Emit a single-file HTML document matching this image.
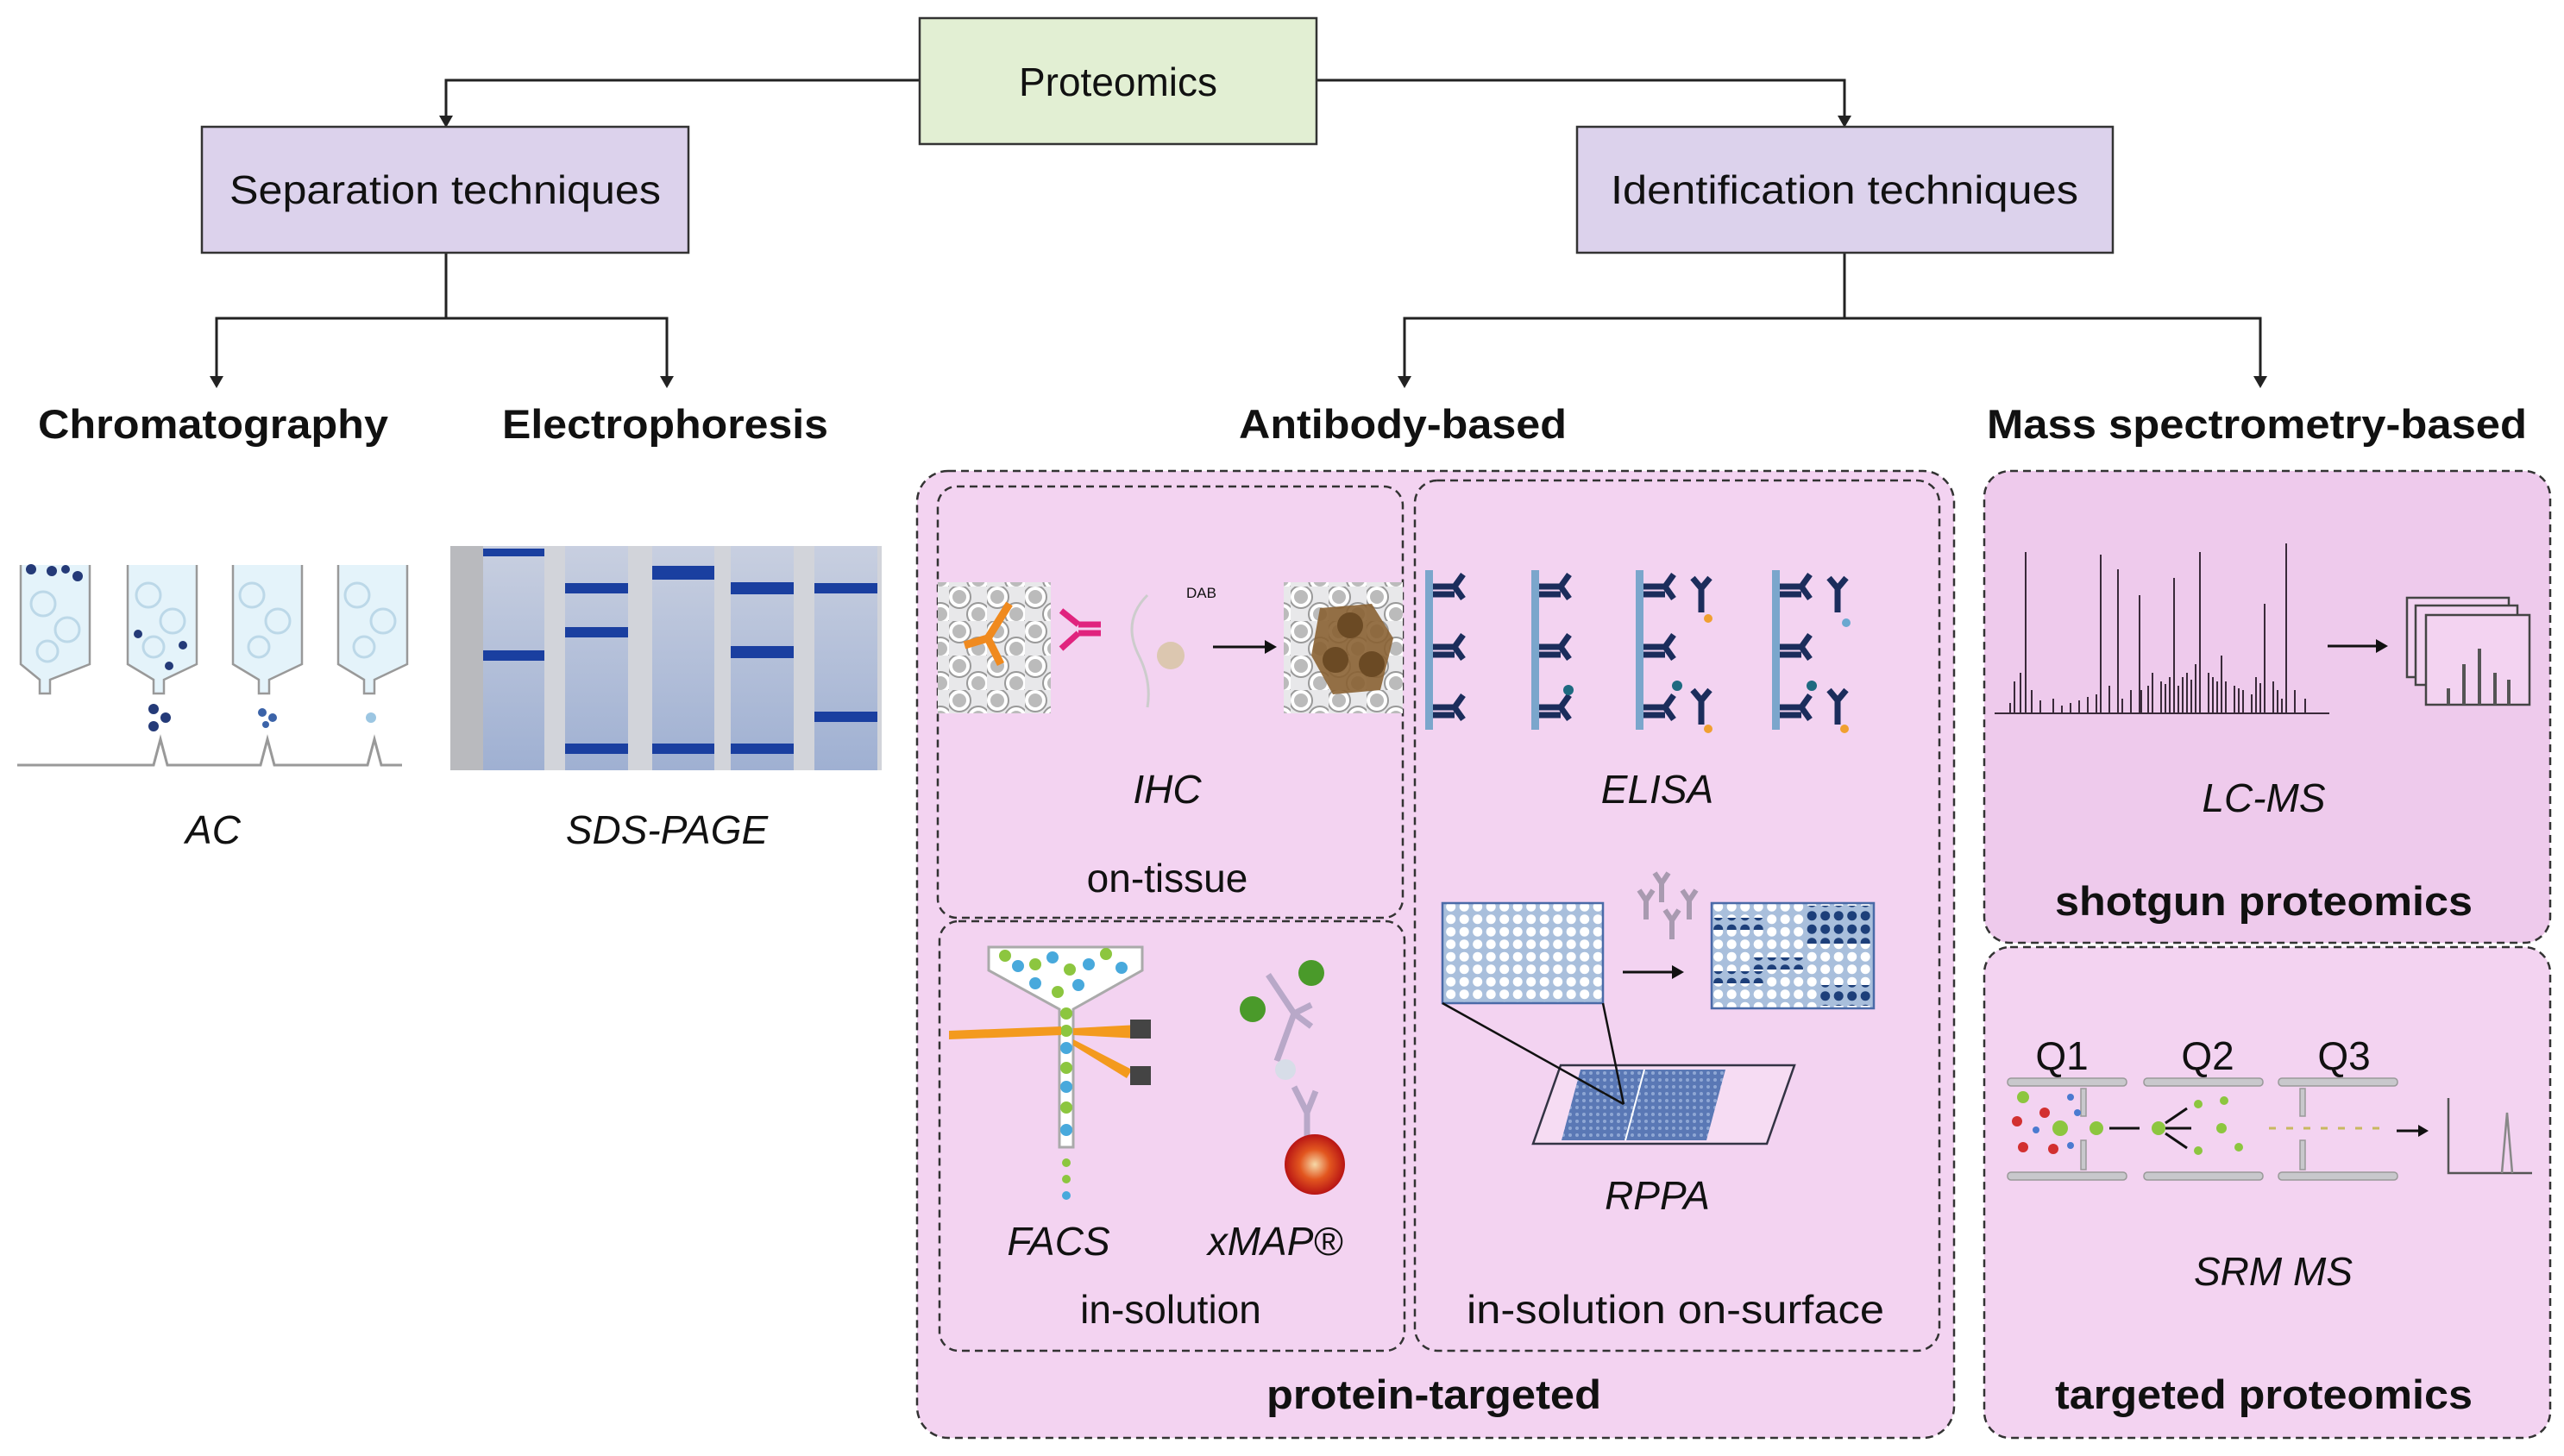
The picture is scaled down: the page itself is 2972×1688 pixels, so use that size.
<!DOCTYPE html>
<html><head><meta charset="utf-8"><style>
html,body{margin:0;padding:0;background:#fff}
svg{display:block}
text{font-family:"Liberation Sans",Arial,sans-serif;fill:#111}
.b{font-weight:bold}
.i{font-style:italic}
</style></head><body>
<svg width="2972" height="1688" viewBox="0 0 2972 1688" xmlns="http://www.w3.org/2000/svg">
<defs>
<pattern id="wells" width="15.5" height="14.5" patternUnits="userSpaceOnUse">
<rect width="15.5" height="14.5" fill="#a9bfdc"/><circle cx="7.7" cy="7.2" r="5.5" fill="#fff"/>
</pattern>
<pattern id="wellsd" width="15.5" height="15.5" patternUnits="userSpaceOnUse">
<rect width="15.5" height="15.5" fill="#a9bfdc"/><circle cx="7.7" cy="7.7" r="5.5" fill="#1d3f7a"/>
</pattern>
<pattern id="cells" width="44" height="40" patternUnits="userSpaceOnUse">
<rect width="44" height="40" fill="#e8e8ea"/>
<circle cx="12" cy="12" r="13" fill="#fff" stroke="#999" stroke-width="2"/><circle cx="12" cy="12" r="8" fill="#bbb"/>
<circle cx="34" cy="32" r="13" fill="#fff" stroke="#999" stroke-width="2"/><circle cx="34" cy="32" r="8" fill="#bbb"/>
</pattern>
<pattern id="spots" width="8" height="8" patternUnits="userSpaceOnUse">
<rect width="8" height="8" fill="#5a78b5"/><circle cx="4" cy="4" r="2" fill="#8fa7d4"/>
</pattern>
<linearGradient id="lane" x1="0" y1="0" x2="0" y2="1"><stop offset="0" stop-color="#c8cfe0"/><stop offset="1" stop-color="#9fb0d2"/></linearGradient>
<radialGradient id="bead"><stop offset="0" stop-color="#f6d9a8"/><stop offset="0.5" stop-color="#e2561f"/><stop offset="1" stop-color="#b81414"/></radialGradient>
</defs>

<g stroke="#222" stroke-width="3" fill="none">
<polyline points="1066,93 517,93 517,136"/>
<polyline points="1526,93 2138,93 2138,136"/>
<line x1="517" y1="293" x2="517" y2="369"/>
<polyline points="251,438 251,369 773,369 773,438"/>
<line x1="2138" y1="293" x2="2138" y2="369"/>
<polyline points="1628,438 1628,369 2620,369 2620,438"/>
</g>
<g fill="#222">
<polygon points="509,134 525,134 517,148"/>
<polygon points="2130,134 2146,134 2138,148"/>
<polygon points="243,436 259,436 251,450"/>
<polygon points="765,436 781,436 773,450"/>
<polygon points="1620,436 1636,436 1628,450"/>
<polygon points="2612,436 2628,436 2620,450"/>
</g>

<rect x="1066" y="21" width="460" height="146" fill="#e2efd3" stroke="#333" stroke-width="2.5"/>
<text x="1296" y="111" font-size="46" text-anchor="middle">Proteomics</text>
<rect x="234" y="147" width="564" height="146" fill="#dcd2ec" stroke="#333" stroke-width="2.5"/>
<text x="516" y="236" font-size="46" text-anchor="middle" textLength="500" lengthAdjust="spacingAndGlyphs">Separation techniques</text>
<rect x="1828" y="147" width="621" height="146" fill="#dcd2ec" stroke="#333" stroke-width="2.5"/>
<text x="2138" y="236" font-size="46" text-anchor="middle" textLength="542" lengthAdjust="spacingAndGlyphs">Identification techniques</text>

<text class="b" x="247" y="508" font-size="47" text-anchor="middle" textLength="406" lengthAdjust="spacingAndGlyphs">Chromatography</text>
<text class="b" x="771" y="508" font-size="47" text-anchor="middle" textLength="378" lengthAdjust="spacingAndGlyphs">Electrophoresis</text>
<text class="b" x="1626" y="508" font-size="47" text-anchor="middle" textLength="380" lengthAdjust="spacingAndGlyphs">Antibody-based</text>
<text class="b" x="2616" y="508" font-size="47" text-anchor="middle" textLength="626" lengthAdjust="spacingAndGlyphs">Mass spectrometry-based</text>

<g stroke="#999" stroke-width="2.5" fill="#e4f3fa">
<path d="M24,655 L24,770 L46,788 L46,804 L58,804 L58,788 L104,770 L104,655"/>
<path d="M148,655 L148,770 L178,788 L178,804 L190,804 L190,788 L228,770 L228,655"/>
<path d="M270,655 L270,770 L300,788 L300,804 L312,804 L312,788 L350,770 L350,655"/>
<path d="M392,655 L392,770 L422,788 L422,804 L434,804 L434,788 L472,770 L472,655"/>
</g>
<g fill="none" stroke="#bcd8e8" stroke-width="3">
<circle cx="50" cy="700" r="14"/><circle cx="78" cy="730" r="14"/><circle cx="55" cy="755" r="12"/>
<circle cx="172" cy="690" r="14"/><circle cx="200" cy="720" r="14"/><circle cx="178" cy="750" r="12"/>
<circle cx="292" cy="690" r="14"/><circle cx="322" cy="720" r="14"/><circle cx="300" cy="750" r="12"/>
<circle cx="414" cy="690" r="14"/><circle cx="444" cy="720" r="14"/><circle cx="422" cy="750" r="12"/>
</g>
<g fill="#243a78">
<circle cx="36" cy="660" r="6"/><circle cx="60" cy="662" r="6"/><circle cx="76" cy="660" r="5"/><circle cx="90" cy="668" r="6"/>
<circle cx="160" cy="735" r="5"/><circle cx="212" cy="748" r="5"/><circle cx="196" cy="772" r="5"/>
<circle cx="178" cy="822" r="6"/><circle cx="192" cy="832" r="6"/><circle cx="178" cy="842" r="6"/>
<circle cx="304" cy="826" r="5" fill="#3b63a8"/><circle cx="316" cy="832" r="5" fill="#3b63a8"/><circle cx="308" cy="840" r="4" fill="#3b63a8"/>
<circle cx="430" cy="832" r="6" fill="#9cc6e2"/>
</g>
<polyline points="20,887 178,887 186,857 194,887 302,887 310,857 318,887 426,887 434,857 442,887 466,887" fill="none" stroke="#999" stroke-width="3"/>
<text class="i" x="247" y="978" font-size="46" text-anchor="middle">AC</text>

<rect x="522" y="633" width="500" height="260" fill="#d2d4da"/>
<rect x="522" y="633" width="38" height="260" fill="#b9babe"/>
<g fill="url(#lane)">
<rect x="560" y="633" width="71" height="260"/><rect x="655" y="633" width="73" height="260"/>
<rect x="756" y="633" width="72" height="260"/><rect x="847" y="633" width="73" height="260"/>
<rect x="944" y="633" width="73" height="260"/>
</g>
<g fill="#1a3fa0">
<rect x="560" y="636" width="71" height="9"/><rect x="560" y="754" width="71" height="12"/>
<rect x="655" y="676" width="73" height="12"/><rect x="655" y="727" width="73" height="12"/><rect x="655" y="862" width="73" height="12"/>
<rect x="756" y="656" width="72" height="16"/><rect x="756" y="862" width="72" height="12"/>
<rect x="847" y="675" width="73" height="14"/><rect x="847" y="749" width="73" height="14"/><rect x="847" y="862" width="73" height="12"/>
<rect x="944" y="676" width="73" height="12"/><rect x="944" y="825" width="73" height="12"/>
</g>
<text class="i" x="773" y="978" font-size="46" text-anchor="middle">SDS-PAGE</text>

<rect x="1063" y="546" width="1202" height="1121" rx="36" fill="#f3d3f1" stroke="#333" stroke-width="2.5" stroke-dasharray="9,6"/>
<rect x="1087" y="564" width="539" height="500" rx="22" fill="none" stroke="#333" stroke-width="2.5" stroke-dasharray="9,6"/>
<rect x="1089" y="1068" width="539" height="498" rx="22" fill="none" stroke="#333" stroke-width="2.5" stroke-dasharray="9,6"/>
<rect x="1640" y="557" width="608" height="1009" rx="26" fill="none" stroke="#333" stroke-width="2.5" stroke-dasharray="9,6"/>

<rect x="1087" y="675" width="131" height="152" fill="url(#cells)"/>
<g stroke="#f08a1e" stroke-width="9" fill="none"><line x1="1170" y1="700" x2="1145" y2="740"/><line x1="1145" y1="740" x2="1160" y2="770"/><line x1="1145" y1="740" x2="1118" y2="748"/></g>
<g stroke="#e0237e" stroke-width="7" fill="none"><line x1="1250" y1="724" x2="1276" y2="724"/><line x1="1250" y1="734" x2="1276" y2="734"/><polyline points="1250,724 1230,708"/><polyline points="1250,734 1230,752"/></g>
<path d="M1330,690 Q1300,720 1320,760 Q1335,790 1330,820" fill="none" stroke="#ccc" stroke-width="3"/>
<circle cx="1357" cy="760" r="16" fill="#d6c4a0" opacity="0.8"/>
<text x="1375" y="693" font-size="17" fill="#444">DAB</text>
<line x1="1406" y1="750" x2="1468" y2="750" stroke="#111" stroke-width="3"/><polygon points="1466,742 1480,750 1466,758" fill="#111"/>
<rect x="1488" y="675" width="138" height="152" fill="url(#cells)"/>
<polygon points="1530,705 1590,700 1615,740 1600,800 1545,805 1520,760" fill="#8a6233" opacity="0.9"/>
<g fill="#6b4a24"><circle cx="1565" cy="725" r="15"/><circle cx="1548" cy="765" r="15"/><circle cx="1590" cy="770" r="15"/></g>
<text class="i" x="1353" y="931" font-size="46" text-anchor="middle">IHC</text>
<text x="1353" y="1034" font-size="46" text-anchor="middle">on-tissue</text>

<g fill="#7ba6cc"><rect x="1652" y="661" width="9" height="185"/><rect x="1775" y="661" width="9" height="185"/><rect x="1896" y="661" width="9" height="185"/><rect x="2054" y="661" width="9" height="185"/></g>
<g stroke="#1b2d5c" stroke-width="7" fill="none">
<path d="M1661,680 h25 l10,-14 M1686,680 l10,14 M1661,689 h25"/><path d="M1661,750 h25 l10,-14 M1686,750 l10,14 M1661,759 h25"/><path d="M1661,820 h25 l10,-14 M1686,820 l10,14 M1661,829 h25"/>
<path d="M1784,680 h25 l10,-14 M1809,680 l10,14 M1784,689 h25"/><path d="M1784,750 h25 l10,-14 M1809,750 l10,14 M1784,759 h25"/><path d="M1784,820 h25 l10,-14 M1809,820 l10,14 M1784,829 h25"/>
<path d="M1905,680 h25 l10,-14 M1930,680 l10,14 M1905,689 h25"/><path d="M1905,750 h25 l10,-14 M1930,750 l10,14 M1905,759 h25"/><path d="M1905,820 h25 l10,-14 M1930,820 l10,14 M1905,829 h25"/>
<path d="M2063,680 h25 l10,-14 M2088,680 l10,14 M2063,689 h25"/><path d="M2063,750 h25 l10,-14 M2088,750 l10,14 M2063,759 h25"/><path d="M2063,820 h25 l10,-14 M2088,820 l10,14 M2063,829 h25"/>
<path d="M1962,670 l10,12 l10,-12 M1972,682 v28"/><path d="M1962,800 l10,12 l10,-12 M1972,812 v28"/>
<path d="M2120,670 l10,12 l10,-12 M2130,682 v28"/><path d="M2120,800 l10,12 l10,-12 M2130,812 v28"/>
</g>
<g fill="#f0a030"><circle cx="1980" cy="717" r="5"/><circle cx="1980" cy="845" r="5"/><circle cx="2138" cy="845" r="5"/></g>
<circle cx="2140" cy="722" r="5" fill="#6aa8d0"/>
<g fill="#1e6a80"><circle cx="1818" cy="800" r="6"/><circle cx="1944" cy="795" r="6"/><circle cx="2100" cy="795" r="6"/></g>
<text class="i" x="1921" y="931" font-size="46" text-anchor="middle">ELISA</text>

<rect x="1672" y="1047" width="186" height="116" fill="url(#wells)" stroke="#4a6aa8" stroke-width="2.5"/>
<rect x="1984" y="1047" width="188" height="122" fill="url(#wells)" stroke="#4a6aa8" stroke-width="2.5"/>
<rect x="1986" y="1064" width="60" height="14" fill="url(#wellsd)"/><rect x="2092" y="1050" width="78" height="44" fill="url(#wellsd)"/>
<rect x="2030" y="1110" width="60" height="14" fill="url(#wellsd)"/><rect x="1986" y="1126" width="60" height="14" fill="url(#wellsd)"/><rect x="2108" y="1142" width="62" height="24" fill="url(#wellsd)"/>
<g stroke="#a89ab0" stroke-width="6" fill="none">
<path d="M1900,1032 l8,12 l8,-12 M1908,1044 v22"/><path d="M1918,1012 l8,12 l8,-12 M1926,1024 v22"/>
<path d="M1930,1055 l8,12 l8,-12 M1938,1067 v22"/><path d="M1950,1032 l8,12 l8,-12 M1958,1044 v22"/>
</g>
<line x1="1881" y1="1127" x2="1940" y2="1127" stroke="#111" stroke-width="3"/><polygon points="1938,1119 1952,1127 1938,1135" fill="#111"/>
<polygon points="1809,1235 2080,1235 2048,1326 1777,1326" fill="#f6dcf3" stroke="#334" stroke-width="2.5"/>
<polygon points="1832,1240 2000,1240 1978,1322 1810,1322" fill="url(#spots)"/>
<line x1="1906" y1="1240" x2="1884" y2="1322" stroke="#fff" stroke-width="2"/>
<g stroke="#111" stroke-width="2.5"><line x1="1672" y1="1163" x2="1882" y2="1280"/><line x1="1858" y1="1163" x2="1882" y2="1280"/></g>
<text class="i" x="1921" y="1402" font-size="46" text-anchor="middle">RPPA</text>

<path d="M1146,1098 L1324,1098 L1324,1125 L1244,1170 L1244,1330 L1228,1330 L1228,1170 L1146,1125 Z" fill="#fff" stroke="#aaa" stroke-width="3"/>
<g fill="#48a9dc"><circle cx="1180" cy="1120" r="7"/><circle cx="1220" cy="1110" r="7"/><circle cx="1262" cy="1118" r="7"/><circle cx="1300" cy="1122" r="7"/><circle cx="1200" cy="1140" r="7"/><circle cx="1250" cy="1142" r="7"/><circle cx="1236" cy="1215" r="7"/><circle cx="1236" cy="1260" r="7"/><circle cx="1236" cy="1310" r="7"/><circle cx="1236" cy="1386" r="5"/></g>
<g fill="#8cc63f"><circle cx="1165" cy="1108" r="7"/><circle cx="1200" cy="1118" r="7"/><circle cx="1240" cy="1124" r="7"/><circle cx="1282" cy="1106" r="7"/><circle cx="1226" cy="1150" r="7"/><circle cx="1236" cy="1175" r="7"/><circle cx="1236" cy="1195" r="7"/><circle cx="1236" cy="1238" r="7"/><circle cx="1236" cy="1284" r="7"/><circle cx="1236" cy="1348" r="5"/><circle cx="1236" cy="1367" r="5"/></g>
<polygon points="1100,1195 1230,1190 1230,1200 1100,1205" fill="#f39a1e"/>
<polygon points="1244,1192 1320,1188 1320,1204 1244,1200" fill="#f39a1e"/>
<polygon points="1244,1205 1312,1240 1306,1250 1244,1212" fill="#f39a1e"/>
<rect x="1310" y="1182" width="24" height="22" fill="#444"/><rect x="1310" y="1236" width="24" height="22" fill="#444"/>
<text class="i" x="1227" y="1455" font-size="46" text-anchor="middle">FACS</text>

<g stroke="#b8a8c8" stroke-width="7" fill="none"><path d="M1470,1130 L1500,1175 L1480,1230 M1500,1175 L1520,1165 M1500,1175 L1520,1190"/><path d="M1500,1260 L1515,1290 L1525,1265 M1515,1290 v45"/></g>
<circle cx="1490" cy="1240" r="12" fill="#d7dde8"/>
<g fill="#4a9a2a"><circle cx="1520" cy="1128" r="15"/><circle cx="1452" cy="1170" r="15"/></g>
<circle cx="1524" cy="1350" r="35" fill="url(#bead)"/>
<text class="i" x="1478" y="1455" font-size="46" text-anchor="middle">xMAP®</text>

<text x="1357" y="1534" font-size="46" text-anchor="middle">in-solution</text>
<text x="1942" y="1534" font-size="46" text-anchor="middle" textLength="484" lengthAdjust="spacingAndGlyphs">in-solution on-surface</text>
<text class="b" x="1662" y="1633" font-size="47" text-anchor="middle" textLength="388" lengthAdjust="spacingAndGlyphs">protein-targeted</text>

<rect x="2300" y="546" width="656" height="547" rx="30" fill="#eecaec" stroke="#333" stroke-width="2.5" stroke-dasharray="9,6"/>
<g stroke="#3a2a3a" stroke-width="2">
<line x1="2312" y1="827" x2="2700" y2="827"/>
<path d="M2348,827V640 M2335,827V790 M2342,827V780 M2355,827V800 M2380,827V810 M2400,827V815 M2430,827V805 M2445,827V795 M2460,827V810 M2482,827V800 M2435,827V643 M2455,827V660 M2480,827V690 M2495,827V780 M2510,827V793 M2520,827V670 M2530,827V785 M2540,827V788 M2550,827V640 M2560,827V780 M2570,827V790 M2575,827V760 M2590,827V795 M2600,827V800 M2615,827V785 M2625,827V700 M2635,827V790 M2650,827V630 M2660,827V800 M2672,827V810"/>
<path d="M2330,827V815 M2365,827V812 M2390,827V818 M2410,827V812 M2420,827V808 M2470,827V800 M2490,827V795 M2505,827V790 M2515,827V785 M2525,827V795 M2535,827V780 M2545,827V770 M2565,827V785 M2580,827V790 M2595,827V798 M2610,827V805 M2620,827V792 M2640,827V800 M2645,827V810"/>
</g>
<line x1="2698" y1="749" x2="2756" y2="749" stroke="#111" stroke-width="3"/><polygon points="2754,741 2768,749 2754,757" fill="#111"/>
<g fill="#f3d3f1" stroke="#444" stroke-width="2.5"><rect x="2790" y="693" width="118" height="92"/><rect x="2800" y="702" width="118" height="92"/><rect x="2812" y="713" width="120" height="104"/></g>
<g stroke="#555" stroke-width="4"><line x1="2838" y1="817" x2="2838" y2="798"/><line x1="2856" y1="817" x2="2856" y2="770"/><line x1="2874" y1="817" x2="2874" y2="752"/><line x1="2892" y1="817" x2="2892" y2="780"/><line x1="2908" y1="817" x2="2908" y2="788"/></g>
<text class="i" x="2624" y="941" font-size="46" text-anchor="middle">LC-MS</text>
<text class="b" x="2624" y="1061" font-size="47" text-anchor="middle" textLength="484" lengthAdjust="spacingAndGlyphs">shotgun proteomics</text>

<rect x="2300" y="1098" width="656" height="569" rx="30" fill="#f3d3f1" stroke="#333" stroke-width="2.5" stroke-dasharray="9,6"/>
<text x="2390" y="1240" font-size="46" text-anchor="middle">Q1</text>
<text x="2559" y="1240" font-size="46" text-anchor="middle">Q2</text>
<text x="2717" y="1240" font-size="46" text-anchor="middle">Q3</text>
<g fill="#c8c8cc" stroke="#999" stroke-width="1.5">
<rect x="2327" y="1250" width="138" height="9" rx="4"/><rect x="2327" y="1359" width="138" height="9" rx="4"/>
<rect x="2485" y="1250" width="138" height="9" rx="4"/><rect x="2485" y="1359" width="138" height="9" rx="4"/>
<rect x="2641" y="1250" width="138" height="9" rx="4"/><rect x="2641" y="1359" width="138" height="9" rx="4"/>
<rect x="2412" y="1262" width="6" height="32"/><rect x="2412" y="1322" width="6" height="34"/>
<rect x="2666" y="1262" width="6" height="32"/><rect x="2666" y="1322" width="6" height="34"/>
</g>
<g fill="#8cc63f"><circle cx="2345" cy="1272" r="7"/><circle cx="2388" cy="1308" r="9"/><circle cx="2430" cy="1308" r="8"/><circle cx="2502" cy="1308" r="8"/><circle cx="2548" cy="1280" r="5"/><circle cx="2578" cy="1276" r="5"/><circle cx="2575" cy="1308" r="6"/><circle cx="2548" cy="1334" r="5"/><circle cx="2595" cy="1330" r="5"/></g>
<g fill="#d23030"><circle cx="2338" cy="1300" r="6"/><circle cx="2370" cy="1290" r="6"/><circle cx="2345" cy="1330" r="6"/><circle cx="2380" cy="1332" r="6"/></g>
<g fill="#4a7ad0"><circle cx="2400" cy="1272" r="4"/><circle cx="2360" cy="1310" r="4"/><circle cx="2400" cy="1328" r="4"/><circle cx="2408" cy="1290" r="4"/></g>
<g stroke="#111" stroke-width="3"><line x1="2445" y1="1308" x2="2480" y2="1308"/><line x1="2510" y1="1308" x2="2540" y2="1308"/><line x1="2510" y1="1302" x2="2535" y2="1285"/><line x1="2510" y1="1314" x2="2535" y2="1331"/><line x1="2778" y1="1311" x2="2805" y2="1311"/></g>
<polygon points="2803,1304 2815,1311 2803,1318" fill="#111"/>
<line x1="2630" y1="1308" x2="2770" y2="1308" stroke="#c8b860" stroke-width="3" stroke-dasharray="8,12"/>
<polyline points="2838,1273 2838,1360 2935,1360" fill="none" stroke="#555" stroke-width="2.5"/>
<path d="M2900,1360 L2906,1290 L2912,1360" fill="none" stroke="#888" stroke-width="2.5"/>
<text class="i" x="2635" y="1490" font-size="46" text-anchor="middle">SRM MS</text>
<text class="b" x="2624" y="1633" font-size="47" text-anchor="middle" textLength="484" lengthAdjust="spacingAndGlyphs">targeted proteomics</text>
</svg>
</body></html>
